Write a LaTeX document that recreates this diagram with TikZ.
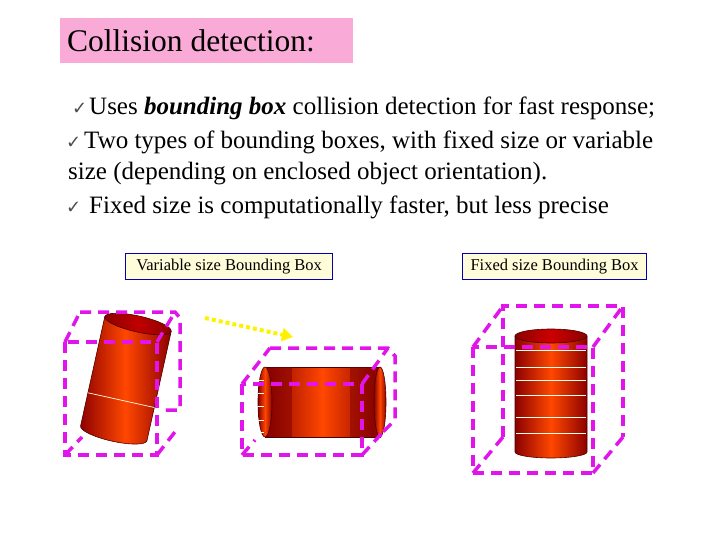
\documentclass[tikz,border=0pt]{standalone}
\usepackage{fontspec}
\usetikzlibrary{arrows.meta}
\setmainfont{Liberation Serif}
\newfontfamily\symf{DejaVu Sans}
\definecolor{mag}{RGB}{225,20,235}
\definecolor{tpink}{RGB}{250,170,215}
\begin{document}
\begin{tikzpicture}[x=1pt,y=-1pt,
  bb/.style={draw=mag,line width=3.5pt,dash pattern=on 11pt off 7pt},
  cyl/.style={draw=black!70!red,line width=0.6pt,left color=red!55!black,right color=red!55!black,middle color=red!20!orange!70!red},
  band/.style={draw=white!90!yellow,line width=0.7pt},
  lab/.style={draw=blue!70!black,line width=1.2pt,fill=yellow!15,inner sep=3pt,font=\fontsize{16.5}{18}\selectfont},
  txt/.style={anchor=base west,font=\fontsize{25}{28}\selectfont,inner sep=0pt},
  chk/.style={anchor=base west,font=\symf\fontsize{18}{18}\selectfont,inner sep=0pt,text=black!70}]
\useasboundingbox (0,0) rectangle (720,540);
\node[fill=tpink,minimum width=293pt,minimum height=45pt,anchor=north west,inner sep=0pt] (title) at (60,18) {};
\node[anchor=base west,font=\fontsize{31.5}{34}\selectfont,inner sep=0pt] (tt) at (67,52) {Collision detection:};
\node[chk] (c1) at (72,115) {✓};
\node[txt] (l1) at (89,115) {Uses \textit{\textbf{bounding box}} collision detection for fast response;};
\node[chk] (c2) at (66,149) {✓};
\node[txt] (l2) at (84,149) {Two types of bounding boxes, with fixed size or variable};
\node[txt] (l3) at (68,180) {size (depending on enclosed object orientation).};
\node[chk] (c3) at (66,214) {✓};
\node[txt] (l4) at (89,214) {Fixed size is computationally faster, but less precise};
\node[lab,minimum width=207pt,minimum height=26pt,anchor=north west,inner sep=0pt] (v) at (125,253) {Variable size Bounding Box};
\node[lab,minimum width=184pt,minimum height=26pt,anchor=north west,inner sep=0pt] (f) at (462,253) {Fixed size Bounding Box};
% cylinder 1 (tilted)
\begin{scope}[shift={(138,324)},rotate=-12.5]
 \path[cyl] (-34,0) -- (-34,112) arc[start angle=180,end angle=0,x radius=34,y radius=8] -- (34,0) -- cycle;
 \draw[band] (-34,78) -- (34,78);
 \draw[cyl,middle color=red!75!black] (0,0) ellipse[x radius=34,y radius=8];
\end{scope}
% box 1
\draw[bb] (80,312) -- (175,312) -- (180,318) -- (180,410) -- (160,410);
\draw[bb] (65,342) rectangle (157,455);
\draw[bb] (65,342) -- (80,312) (157,342) -- (175,312) (157,455) -- (178,428) (65,455) -- (82,437);
% yellow arrow
\coordinate (a1) at (205,318); \coordinate (a2) at (293,337);
\draw[yellow,line width=4pt,dash pattern=on 4pt off 3pt,-{Triangle[length=11pt,width=13pt]}] (a1) -- (a2);
% cylinder 2 (horizontal)
\path[cyl] (265,367) rectangle (380,437);
\fill[red!50!black,opacity=.5] (270,367) rectangle (292,437);
\fill[red!50!black,opacity=.5] (350,367) rectangle (375,437);
\draw[cyl] (380,402) ellipse[x radius=6,y radius=35];
\draw[cyl] (265,402) ellipse[x radius=7,y radius=35];
\foreach \yy in {380,393,406,420,432} \draw[band,line width=0.4pt] (258,\yy) -- (264,\yy);
% box 2
\draw[bb] (270,348) -- (388,348) -- (395,356) -- (395,420) -- (383,432);
\draw[bb] (242,384) rectangle (362,455);
\draw[bb] (242,384) -- (270,348) (362,384) -- (388,348) (242,455) -- (255,440) (362,455) -- (383,432);
% cylinder 3
\path[cyl] (515,336) -- (515,452) arc[start angle=180,end angle=0,x radius=36,y radius=6] -- (587,336) -- cycle;
\foreach \yy in {350,367,380,395,417,433} \draw[band] (516,\yy) -- (586,\yy);
\draw[cyl,middle color=red!80!black] (551,336) ellipse[x radius=36,y radius=7];
% box 3
\draw[bb] (503,437) -- (503,306) -- (623,306) -- (623,437);
\draw[bb] (473,347) rectangle (593,473);
\draw[bb] (473,347) -- (503,306) (593,347) -- (623,306) (473,473) -- (503,437) (593,473) -- (623,437);
\end{tikzpicture}
\end{document}
